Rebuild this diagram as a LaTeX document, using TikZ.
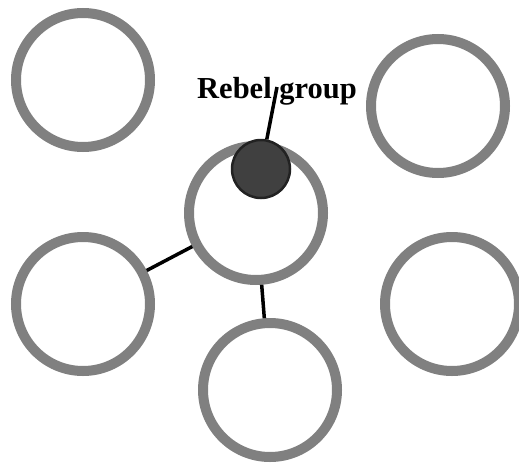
\documentclass[tikz,border=0pt]{standalone}
\usepackage{fontspec}
\setmainfont{Liberation Serif}
\definecolor{RingGray}{RGB}{128,128,128}
\definecolor{RebelFill}{RGB}{64,64,64}
\definecolor{RebelEdge}{RGB}{34,34,34}

\begin{document}
\begin{tikzpicture}[x=1pt, y=-1pt,
    group/.style={circle, draw=RingGray, line width=10pt, minimum size=134pt, inner sep=0pt},
    rebel/.style={circle, draw=RebelEdge, fill=RebelFill, line width=2.5pt, minimum size=58pt, inner sep=0pt},
    tie/.style={line width=3.5pt, black}]
  \useasboundingbox (0,0) rectangle (519,463);
  \node[group] (topleft) at (83,80) {};
  \node[group] (topright) at (438,106) {};
  \node[group] (center) at (256,213) {};
  \node[group] (left) at (83,304) {};
  \node[group] (bottom) at (270,390) {};
  \node[group] (right) at (452,304) {};
  \node[font=\fontsize{30.5}{30.5}\selectfont\bfseries, inner sep=0pt, anchor=base] (label) at (277,98) {Rebel group};
  \coordinate (labelpin) at (277,87);
  \node[rebel] (rebel) at (261,169) {};
  \draw[tie] (rebel) -- (labelpin);
  \draw[tie] (center) -- (left);
  \draw[tie] (center) -- (bottom);
\end{tikzpicture}
\end{document}
